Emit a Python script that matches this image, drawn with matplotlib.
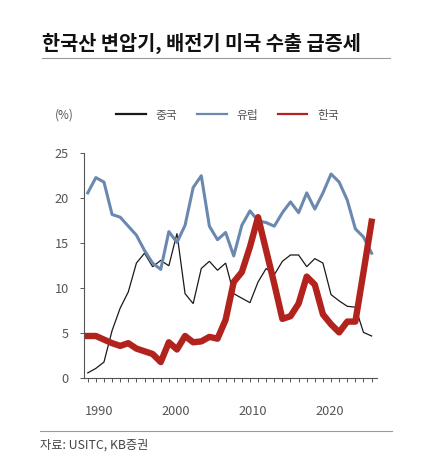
import numpy as np
import matplotlib
matplotlib.use('Agg')
import matplotlib.pyplot as plt
from matplotlib.lines import Line2D
from matplotlib.ticker import FixedLocator, NullFormatter

plt.rcParams['font.family'] = ['Noto Sans CJK KR', 'DejaVu Sans']

# 미국 변압기/배전기 수입 점유율 (%)
years = np.arange(1989, 2025)
china = [0.6, 1.1, 1.8, 5.3, 7.8, 9.6, 12.8, 13.9, 12.4, 13.1, 12.5, 16.1,
         9.4, 8.3, 12.2, 13.0, 12.0, 12.8, 9.4, 8.9, 8.4, 10.7, 12.2, 11.5,
         13.0, 13.7, 13.7, 12.4, 13.3, 12.8, 9.3, 8.6, 8.0, 7.9, 5.1, 4.7]
europe = [20.6, 22.3, 21.8, 18.2, 17.9, 16.9, 15.9, 14.2, 12.8, 12.1, 16.3, 15.1,
          17.0, 21.2, 22.5, 16.9, 15.4, 16.2, 13.6, 17.0, 18.6, 17.5, 17.3, 16.9,
          18.4, 19.6, 18.4, 20.6, 18.8, 20.6, 22.7, 21.8, 19.8, 16.6, 15.7, 13.9]
korea = [4.7, 4.7, 4.3, 3.9, 3.6, 3.9, 3.3, 3.0, 2.7, 1.8, 4.0, 3.2,
         4.7, 4.0, 4.1, 4.6, 4.4, 6.5, 10.7, 11.8, 14.6, 17.9, 14.2, 10.5,
         6.6, 6.9, 8.3, 11.3, 10.4, 7.1, 6.0, 5.1, 6.3, 6.3, 11.8, 17.4]

names = ['중국', '유럽', '한국']
colors = ['#1a1a1a', '#6b88b0', '#b3231e']
x_labels = ['1990', '2000', '2010', '2020']
x_label_pos = [1990.4, 1999.8, 2009.4, 2018.9]
y_ticks = [0, 5, 10, 15, 20, 25]

fig = plt.figure(figsize=(4.28, 4.62), dpi=100)
ax = fig.add_axes([0.1963, 0.1812, 0.6846, 0.487])

ax.plot(years, china, color=colors[0], lw=0.9, solid_joinstyle='miter')
ax.plot(years, europe, color=colors[1], lw=2.2, solid_joinstyle='round')
ax.plot(years, korea, color=colors[2], lw=4.6, solid_joinstyle='round')

ax.set_xlim(1988.54, 2024.67)
ax.set_ylim(0, 25)
ax.set_yticks(y_ticks)

# 연도별 작은 눈금 + 라벨
ax.xaxis.set_minor_locator(FixedLocator(years))
ax.xaxis.set_minor_formatter(NullFormatter())
ax.set_xticks(x_label_pos)
ax.set_xticklabels(x_labels)
ax.tick_params(axis='x', which='major', length=0, pad=19, labelsize=9.2, labelcolor='#555555')
ax.tick_params(axis='x', which='minor', length=3, width=0.7, direction='out', color='#555555')
ax.tick_params(axis='y', length=3, width=0.7, direction='out', color='#555555',
               pad=8, labelsize=9.2, labelcolor='#555555')

for s in ['top', 'right']:
    ax.spines[s].set_visible(False)
for s in ['left', 'bottom']:
    ax.spines[s].set_color('#555555')
    ax.spines[s].set_linewidth(0.8)

# 제목, 밑줄
fig.text(42 / 428, 1 - 43 / 462, '한국산 변압기, 배전기 미국 수출 급증세',
         fontsize=14.2, fontweight='bold', color='#111111', va='center', ha='left')
fig.add_artist(Line2D([42 / 428, 390 / 428], [1 - 58 / 462] * 2, color='#9a9a9a', lw=0.8))

fig.text(55 / 428, 1 - 115 / 462, '(%)', fontsize=8.5, color='#555555', va='center', ha='left')

handles = [Line2D([], [], color=c, lw=1.6) for c in colors]
fig.legend(handles, names, loc='center', bbox_to_anchor=(0.5316, 1 - 115 / 462), ncol=3,
           frameon=False, fontsize=8.5, handlelength=2.5, handletextpad=0.8,
           columnspacing=1.7, labelcolor='#555555')

# 출처
fig.add_artist(Line2D([40 / 428, 392 / 428], [1 - 431 / 462] * 2, color='#9a9a9a', lw=0.8))
fig.text(40 / 428, 1 - 445 / 462, '자료: USITC, KB증권', fontsize=8.8, color='#444444',
         va='center', ha='left')

fig.savefig('out.png', dpi=100)
